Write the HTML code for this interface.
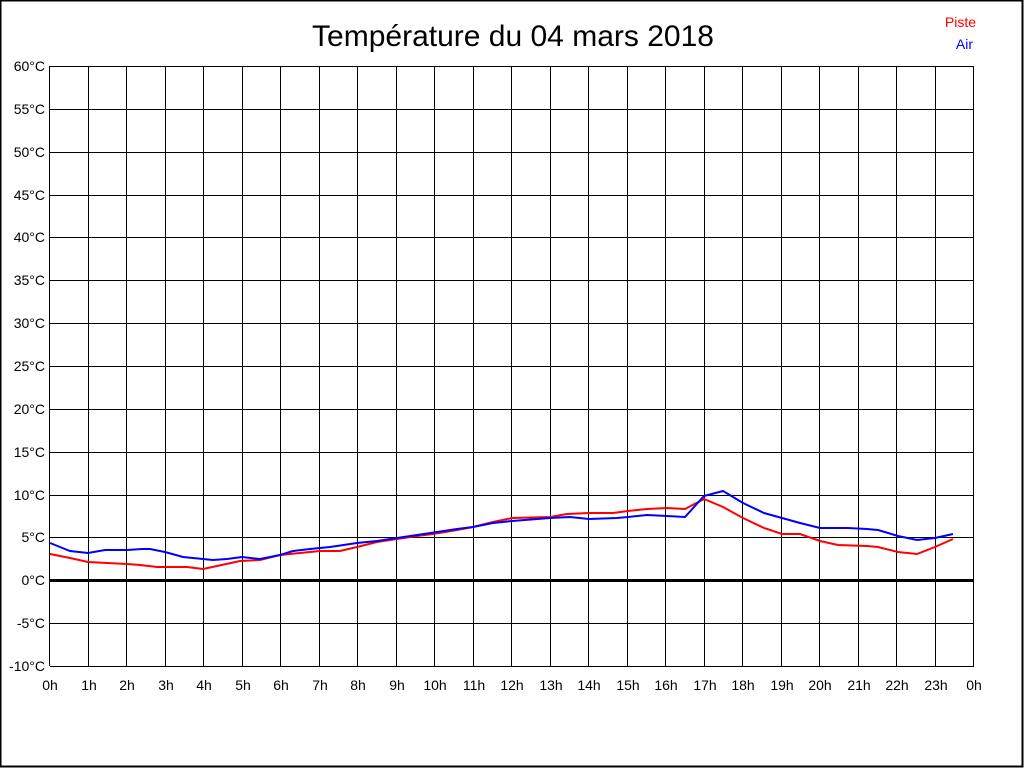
<!DOCTYPE html>
<html><head><meta charset="utf-8"><style>
html,body{margin:0;padding:0;background:#fff;}
svg{display:block;}
text{font-family:"Liberation Sans",Arial,sans-serif;}
</style></head><body>
<svg width="1024" height="768" viewBox="0 0 1024 768" xmlns="http://www.w3.org/2000/svg">
<rect x="0.5" y="0.5" width="1022" height="766" fill="#fff" stroke="#000" stroke-width="2"/>
<text x="513" y="46" font-size="30" text-anchor="middle">Température du 04 mars 2018</text>
<text x="976" y="27" font-size="14" fill="#f00" text-anchor="end">Piste</text>
<text x="973" y="49" font-size="14" fill="#00f" text-anchor="end">Air</text>
<g stroke="#000" stroke-width="1" shape-rendering="crispEdges" id="grid"></g>
<g font-size="14" id="lbl"></g>
<polyline fill="none" stroke="#f00" stroke-width="2" points="50,554 70,558 88,562 107,563 127,564 140,565 157,567 187,567 203,569 217,566 240,561 260,560 280,555 300,553 320,551 340,551 357,547 377,542 397,539 417,536 433,534 457,530 473,527 493,522 512,518 550,517 567,514 589,513 613,513 628,511 647,509 667,508 685,509 704,499 723,507 743,518 764,528 782,534 800,534 820,541 838,545 867,546 878,547 898,552 917,554 935,547 953,539"/>
<polyline fill="none" stroke="#00f" stroke-width="2" points="50,543 70,551 88,553 105,550 127,550 142,549 150,549 165,552 183,557 203,559 213,560 227,559 242,557 260,559 280,555 293,551 310,549 330,547 357,543 377,541 397,538 417,535 437,532 457,529 473,527 493,523 512,521 550,518 570,517 589,519 617,518 628,517 647,515 667,516 685,517 704,496 723,491 743,503 764,513 782,518 800,523 820,528 848,528 867,529 878,530 898,536 917,540 935,538 953,534"/>
</svg>
<script>
var g=document.getElementById('grid'),l=document.getElementById('lbl'),ns='http://www.w3.org/2000/svg';
function el(p,n,a,t){var e=document.createElementNS(ns,n);for(var k in a)e.setAttribute(k,a[k]);if(t!=null)e.textContent=t;p.appendChild(e);}
for(var i=0;i<=14;i++){var y=66+i*600/14;var v=60-5*i;
 el(g,'line',{x1:50,x2:974,y1:Math.round(y)+0.5,y2:Math.round(y)+0.5,'stroke-width':v==0?3:1});
 el(l,'text',{x:45,y:Math.round(y)+5,'text-anchor':'end'},v+'°C');}
for(var h=0;h<=24;h++){var x=Math.round(50+h*38.5)-0.5;
 el(g,'line',{x1:x,x2:x,y1:66,y2:666});
 el(l,'text',{x:x+0.5,y:690,'text-anchor':'middle'},(h%24)+'h');}
</script>
</body></html>
